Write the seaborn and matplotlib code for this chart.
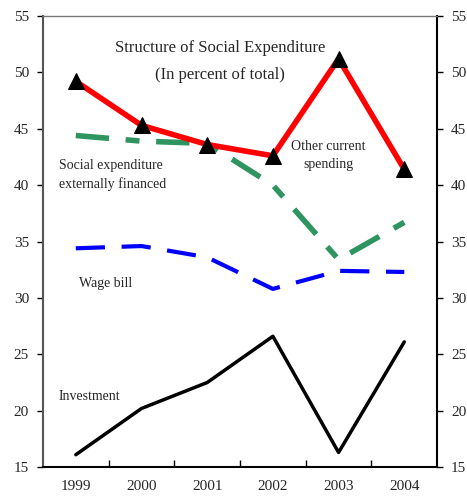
import pandas as pd
import numpy as np
import matplotlib.pyplot as plt
import seaborn as sns

#data
years = ['1999', '2000', '2001', '2002', '2003', '2004']
other_current = [49.2, 45.3, 43.6, 42.6, 51.2, 41.4]
externally_financed = [44.4, 43.9, 43.7, 40.0, 33.4, 36.7]
wage_bill = [34.4, 34.6, 33.6, 30.8, 32.4, 32.3]
investment = [16.1, 20.2, 22.5, 26.6, 16.3, 26.1]

df = pd.DataFrame({'x': np.arange(len(years)),
                   'other': other_current,
                   'ext': externally_financed,
                   'wage': wage_bill,
                   'inv': investment})

sns.set_style('white')
plt.rcParams['font.family'] = ['Liberation Serif', 'DejaVu Serif']

fig = plt.figure(figsize=(4.67, 4.98), dpi=100)
ax = fig.add_axes([0.092, 0.062, 0.844, 0.906])

#each series drawn separately so each gets its own style
sns.lineplot(data=df, x='x', y='inv', ax=ax, color='black', linewidth=2.5)
sns.lineplot(data=df, x='x', y='wage', ax=ax, color='#0000ff', linewidth=3)
ax.lines[-1].set_dashes([7, 4])
sns.lineplot(data=df, x='x', y='ext', ax=ax, color='#2e9460', linewidth=4)
ax.lines[-1].set_dashes([6, 3, 2.5, 3])
sns.lineplot(data=df, x='x', y='other', ax=ax, color='#ff0000', linewidth=4,
             marker='^', markersize=12, markerfacecolor='black',
             markeredgecolor='black')

ax.set_xlim(-0.5, 5.5)
ax.set_ylim(15, 55)
ax.set_xlabel('')
ax.set_ylabel('')

#x ticks sit between the years, labels in the middle
ax.set_xticks(np.arange(0.5, 5.5, 1))
ax.set_xticklabels([])
ax.set_xticks(np.arange(len(years)), minor=True)
ax.set_xticklabels(years, minor=True, fontsize=11)
ax.tick_params(axis='x', which='major', direction='in', length=5, width=1,
               bottom=True, color='black')
ax.tick_params(axis='x', which='minor', length=0, pad=9)

ax.set_yticks(np.arange(15, 56, 5))
ax.tick_params(axis='y', direction='out', length=4, width=1, left=True,
               right=True, labelright=True, labelsize=11, color='black',
               pad=6)

for side in ['left', 'right', 'bottom']:
    ax.spines[side].set_color('black')
    ax.spines[side].set_linewidth(1.5)
ax.spines['left'].set_color('#555555')
ax.spines['top'].set_color('#777777')
ax.spines['top'].set_linewidth(1)

ax.text(2.2, 52.2, 'Structure of Social Expenditure', ha='center',
        va='center', fontsize=12)
ax.text(2.2, 49.8, '(In percent of total)', ha='center', va='center',
        fontsize=12)
ax.text(-0.25, 40.9, 'Social expenditure\nexternally financed', ha='left',
        va='center', fontsize=10, linespacing=1.5)
ax.text(3.84, 42.6, 'Other current\nspending', ha='center', va='center',
        fontsize=10, linespacing=1.5)
ax.text(0.05, 31.3, 'Wage bill', ha='left', va='center', fontsize=10)
ax.text(-0.27, 21.3, 'Investment', ha='left', va='center', fontsize=10)

fig.savefig('out.png', dpi=100)
